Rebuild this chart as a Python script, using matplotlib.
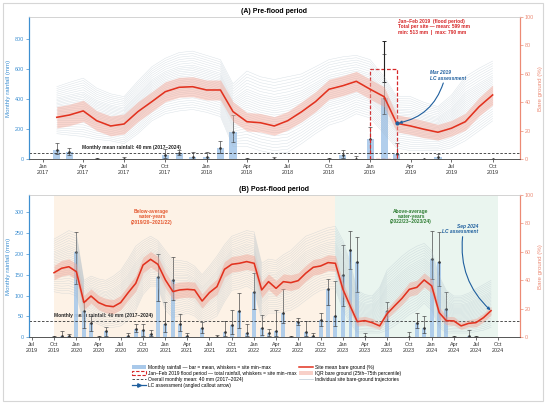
import matplotlib
matplotlib.use('Agg')
import matplotlib.pyplot as plt
import matplotlib.dates as mdates
import numpy as np
import pandas as pd
from matplotlib.patches import Rectangle, Patch
from matplotlib.lines import Line2D

plt.rcParams['font.family'] = ['Liberation Sans', 'DejaVu Sans']

# ---------------- (A) pre-flood period: Feb 2017 – Oct 2019 ----------------
months_a = pd.date_range('2017-02-01', '2019-10-01', freq='MS')
rain_mean_a = [62, 47, 0, 2, 0, 2, 0, 0, 29, 44, 16,
               13, 73, 184, 1, 0, 2, 0, 0, 0, 1, 29, 3,
               133, 410, 33, 0, 1, 17, 0, 0, 0, 1]
rain_min_a = [36, 29, 0, 0, 0, 0, 0, 0, 7, 29, 2,
              2, 40, 118, 0, 0, 0, 0, 0, 0, 0, 7, 0,
              40, 300, 5, 0, 0, 2, 0, 0, 0, 0]
rain_max_a = [111, 73, 0, 11, 0, 13, 0, 0, 67, 62, 47,
              49, 124, 296, 7, 0, 13, 0, 0, 0, 10, 62, 20,
              217, 700, 110, 0, 4, 35, 0, 0, 0, 4]
bare_mean_a = [29.5, 31.1, 34.0, 27.1, 23.4, 24.8, 33.5, 40.5, 47.5, 50.6, 51.0,
               48.7, 48.7, 33.5, 26.4, 25.7, 23.4, 27.1, 33.4, 40.5, 49.2, 51.7, 54.8,
               49.2, 44.0, 25.3, 23.4, 21.1, 19.0, 21.8, 26.4, 37.0, 45.2]
bare_iqr_half_a = [7.5, 7.5, 7.5, 7, 7, 7, 7, 7, 7, 7, 7,
                   7, 7, 7, 6.5, 6.5, 6.5, 6.5, 7, 7, 7, 7, 7,
                   7, 7, 6, 6, 6, 5.5, 5.5, 6, 6.5, 7]
site_upper_a = [51, 54, 57, 50, 46, 44, 55, 65, 71, 75, 76,
                73, 70, 53, 62, 58, 56, 58, 60, 65, 70, 72, 73,
                70, 58, 44, 44, 40, 37, 45, 58, 64, 69]
site_lower_a = [18, 17, 16, 14, 13, 11, 18, 27, 32, 34, 35,
                33, 30, 9, 9, 6, 4, 5, 11, 18, 24, 27, 32,
                29, 18, 8, 6, 6, 6, 8, 13, 20, 27]

flood_start = '2019-01-01'
flood_end = '2019-03-01'
flood_center = '2019-02-01'
flood_total_mean = 599
flood_total_min = 513
flood_total_max = 790

# ---------------- (B) post-flood period: Oct 2019 – Sep 2024 ----------------
months_b = pd.date_range('2019-10-01', '2024-09-01', freq='MS')
rain_mean_b = [1, 3, 2,
               205, 62, 34, 1, 16, 0, 0, 2, 21, 17, 9, 145,
               31, 138, 31, 2, 0, 22, 0, 1, 12, 30, 63, 10,
               110, 22, 10, 14, 58, 1, 36, 12, 4, 42, 115, 52,
               150, 211, 181, 1, 0, 0, 62, 0, 0, 1, 35, 22,
               187, 181, 68, 1, 0, 2, 1, 0, 0]
rain_min_b = [0, 0, 0,
              127, 22, 16, 0, 4, 0, 0, 0, 12, 4, 2, 88,
              12, 90, 16, 0, 0, 11, 0, 0, 2, 8, 22, 2,
              68, 6, 2, 2, 34, 0, 30, 3, 1, 26, 78, 26,
              75, 165, 108, 0, 0, 0, 38, 0, 0, 0, 22, 10,
              139, 123, 40, 0, 0, 0, 0, 0, 0]
rain_max_b = [4, 14, 7,
              254, 88, 52, 3, 25, 0, 0, 10, 33, 31, 18, 200,
              86, 192, 56, 11, 0, 37, 0, 5, 40, 66, 106, 32,
              155, 54, 19, 66, 116, 2, 47, 38, 11, 58, 139, 135,
              221, 256, 240, 11, 0, 0, 86, 0, 0, 12, 58, 50,
              256, 253, 108, 3, 0, 18, 4, 0, 0]
bare_mean_b = [45.4, 48.5, 49.6,
               46.1, 24.4, 29.0, 24.4, 22.2, 21.5, 24.4, 31.4, 37.9, 50.8, 54.8, 51.3,
               40.3, 32.1, 33.3, 33.7, 33.3, 25.5, 31.4, 35.6, 47.8, 51.3, 52.0, 53.2,
               52.0, 33.3, 39.1, 34.4, 39.1, 38.4, 39.8, 45.0, 49.2, 50.1, 52.5, 52.0,
               33.7, 21.5, 11.0, 11.7, 10.3, 8.0, 16.4, 22.0, 27.4, 33.7, 35.1, 40.3,
               36.1, 17.3, 11.7, 11.5, 8.0, 9.8, 10.3, 13.8, 18.7]
bare_iqr_half_b = [5, 5.5, 5.5,
                   5.5, 5, 5, 5, 5, 5, 5, 5, 5.5, 5.5, 5.5, 5.5,
                   5.5, 5.5, 5.5, 5.5, 5.5, 5, 5, 5.5, 5.5, 5.5, 5.5, 5.5,
                   5.5, 5.5, 5.5, 5.5, 5.5, 5.5, 5.5, 5.5, 5.5, 5.5, 5.5, 5.5,
                   5, 4, 3, 3, 3, 2.5, 3.5, 4, 4.5, 5, 5, 5,
                   5, 4, 3, 3, 2.5, 2.5, 3, 3, 3]
site_upper_b = [69, 72, 75,
                73, 40, 43, 41, 40, 43, 47, 55, 64, 68, 71, 68,
                61, 54, 54, 53, 50, 44, 50, 57, 65, 71, 73, 75,
                74, 52, 55, 54, 58, 61, 66, 71, 73, 75, 77, 78,
                68, 52, 33, 30, 29, 35, 47, 52, 57, 61, 64, 66,
                61, 43, 33, 29, 29, 31, 34, 37, 40]
site_lower_b = [32, 31, 31,
                29, 10, 12, 9, 7, 7, 8, 12, 19, 30, 36, 36,
                19, 14, 15, 17, 15, 10, 12, 15, 25, 33, 34, 36,
                33, 12, 17, 17, 18, 19, 22, 26, 30, 33, 34, 34,
                19, 10, 3, 3, 3, 3, 5, 8, 12, 16, 19, 24,
                19, 7, 3, 3, 3, 3, 4, 5, 7]

# relative position of each monitored site inside the site envelope
site_positions = [0.0, 0.04, 0.08, 0.12, 0.16, 0.2, 0.24, 0.28, 0.31, 0.34,
                  0.37, 0.4, 0.43, 0.46, 0.49, 0.52, 0.55, 0.58, 0.61, 0.64,
                  0.67, 0.7, 0.73, 0.76, 0.8, 0.84, 0.88, 0.92, 0.96, 1.0]

overall_mean_rain = 40

lc_a_date = '2019-03-01'
lc_b_date = '2024-09-01'

# ---------------- styling ----------------
C_BAR = '#a9c9ea'
C_LEFT = '#3d8fd1'
C_RIGHT = '#ec8a74'
C_RED = '#e2321f'
C_IQR = '#f2a393'
C_SITE = '#a3b5c2'
C_ARROW = '#1f5f9e'
C_FLOOD = '#d62728'
FS_TICK = 3.9
FS_LAB = 4.4
FS_ANN = 3.55

fig = plt.figure(figsize=(5.5, 4.05), dpi=100)
fig.patches.append(Rectangle((0.0055, 0.0099), 0.9824, 0.9827, transform=fig.transFigure,
                             fill=False, edgecolor='#d6d6d6', lw=0.8))

axA = fig.add_axes([0.0527, 0.6067, 0.8927, 0.3514])
axB = fig.add_axes([0.0527, 0.1672, 0.8927, 0.3513])


def style_axes(ax, ax2, xlim, ylim, yticks, title):
    ax.set_xlim(pd.Timestamp(xlim[0]), pd.Timestamp(xlim[1]))
    ax.set_ylim(*ylim)
    ax2.set_ylim(0, 100)
    ax.set_yticks(yticks)
    ax2.set_yticks([0, 20, 40, 60, 80, 100])
    ax.xaxis.set_major_locator(mdates.MonthLocator(bymonth=[1, 4, 7, 10]))
    ax.xaxis.set_major_formatter(mdates.DateFormatter('%b\n%Y'))
    ax.tick_params(axis='x', labelsize=FS_TICK, length=2, width=0.5, pad=1.5,
                   colors='#333333')
    ax.tick_params(axis='y', labelsize=FS_TICK, length=2, width=0.5, pad=1.5,
                   colors=C_LEFT)
    ax2.tick_params(axis='y', labelsize=FS_TICK, length=2, width=0.5, pad=1.5,
                    colors=C_RIGHT)
    ax.set_ylabel('Monthly rainfall (mm)', fontsize=FS_LAB, color=C_LEFT, labelpad=2.5)
    ax2.set_ylabel('Bare ground (%)', fontsize=FS_LAB, color=C_RIGHT, labelpad=2.5)
    for a in (ax, ax2):
        a.spines['top'].set_color('#d0d0d0')
        a.spines['top'].set_linewidth(0.5)
        a.spines['bottom'].set_color('#555555')
        a.spines['bottom'].set_linewidth(0.6)
        a.spines['left'].set_color(C_LEFT)
        a.spines['left'].set_linewidth(0.8)
        a.spines['right'].set_color(C_RIGHT)
        a.spines['right'].set_linewidth(0.8)
    ax.set_title(title, fontsize=5.0, fontweight='bold', pad=3.0)


def draw_panel(ax, ax2, months, rmean, rmin, rmax, bmean, bhalf, sup, slo):
    rmean = np.array(rmean, float)
    rmin = np.array(rmin, float)
    rmax = np.array(rmax, float)
    ax.bar(months, rmean, width=16, color=C_BAR, alpha=0.9, zorder=2, lw=0)
    has = rmax > 0
    ax.errorbar(months[has], rmean[has],
                yerr=[rmean[has] - rmin[has], rmax[has] - rmean[has]],
                fmt='o', ms=0.9, mfc='#333333', mec='#333333', ecolor='#3a3a3a',
                elinewidth=0.45, capsize=1.1, capthick=0.45, zorder=3)
    ax.axhline(overall_mean_rain, color='#333333', ls=(0, (3, 2)), lw=0.6, zorder=2.5)
    bmean = np.array(bmean, float)
    bhalf = np.array(bhalf, float)
    sup = np.array(sup, float)
    slo = np.array(slo, float)
    for p in site_positions:
        ax2.plot(months, slo + p * (sup - slo), color=C_SITE, lw=0.35, alpha=0.4,
                 zorder=1)
    ax2.fill_between(months, bmean - bhalf, bmean + bhalf, color=C_IQR, alpha=0.45,
                     lw=0, zorder=2)
    ax2.plot(months, bmean, color=C_RED, lw=1.15, zorder=3)


# ---------------- panel A ----------------
axA2 = axA.twinx()
draw_panel(axA, axA2, months_a, rain_mean_a, rain_min_a, rain_max_a,
           bare_mean_a, bare_iqr_half_a, site_upper_a, site_lower_a)
style_axes(axA, axA2, ('2016-12-01', '2019-12-01'), (0, 948),
           [0, 200, 400, 600, 800], '(A) Pre-flood period')

fs = pd.Timestamp(flood_start)
fe = pd.Timestamp(flood_end)
axA.add_patch(Rectangle((mdates.date2num(fs), 0),
                        mdates.date2num(fe) - mdates.date2num(fs), flood_total_mean,
                        fill=False, edgecolor=C_FLOOD, ls=(0, (3, 1.5)), lw=0.9, zorder=4))
axA.errorbar([pd.Timestamp(flood_center)], [flood_total_mean],
             yerr=[[flood_total_mean - flood_total_min], [flood_total_max - flood_total_mean]],
             fmt='none', ecolor='#222222', elinewidth=0.8, capsize=1.6, capthick=0.7, zorder=5)
axA.text(pd.Timestamp('2019-03-03'), 933,
         'Jan–Feb 2019  (flood period)\nTotal per site — mean: %d mm\nmin: %d mm  |  max: %d mm'
         % (flood_total_mean, flood_total_min, flood_total_max),
         fontsize=FS_ANN, color=C_FLOOD, fontweight='bold', va='top', ha='left',
         linespacing=1.05, zorder=6)
axA.annotate('Monthly mean rainfall: 40 mm (2017–2024)',
             xy=(pd.Timestamp('2017-03-30'), overall_mean_rain), xytext=(0, 2.2),
             textcoords='offset points', fontsize=FS_ANN, fontweight='bold',
             ha='left', va='bottom', color='#222222', zorder=1.5)

ia = list(months_a).index(pd.Timestamp(lc_a_date))
axA2.plot([months_a[ia]], [bare_mean_a[ia]], 'o', color=C_ARROW, ms=2, zorder=6)
axA2.annotate('', xy=(months_a[ia], bare_mean_a[ia]),
              xytext=(pd.Timestamp('2019-06-13'), 53.6),
              arrowprops=dict(arrowstyle='-|>', color=C_ARROW, lw=0.8,
                              mutation_scale=4, shrinkA=0, shrinkB=1.5,
                              connectionstyle='arc3,rad=-0.3'), zorder=6)
axA2.text(pd.Timestamp('2019-05-14'), 62.5, 'Mar 2019\nLC assessment',
          fontsize=FS_ANN, color=C_ARROW, fontweight='bold', fontstyle='italic',
          ha='left', va='top', linespacing=1.05, zorder=6)

# ---------------- panel B ----------------
axB2 = axB.twinx()
axB.axvspan(pd.Timestamp('2019-10-01'), pd.Timestamp('2022-12-01'),
            color='#fdf2e6', lw=0, zorder=0)
axB.axvspan(pd.Timestamp('2022-12-01'), pd.Timestamp('2024-10-01'),
            color='#eaf5ef', lw=0, zorder=0)
draw_panel(axB, axB2, months_b, rain_mean_b, rain_min_b, rain_max_b,
           bare_mean_b, bare_iqr_half_b, site_upper_b, site_lower_b)
style_axes(axB, axB2, ('2019-06-20', '2024-12-29'), (0, 342),
           [0, 50, 100, 150, 200, 250, 300], '(B) Post-flood period')

axB.annotate('Monthly mean rainfall: 40 mm (2017–2024)',
             xy=(pd.Timestamp('2019-10-01'), overall_mean_rain), xytext=(0, 2.2),
             textcoords='offset points', fontsize=FS_ANN, fontweight='bold',
             ha='left', va='bottom', color='#222222', zorder=1.5)
axB2.text(pd.Timestamp('2020-11-05'), 90.0, 'Below-average\nwater-years\n(2019/20–2021/22)',
          fontsize=FS_ANN, color='#e4572e', fontweight='bold', ha='center', va='top',
          linespacing=1.05, zorder=6)
axB2.text(pd.Timestamp('2023-10-07'), 90.5, 'Above-average\nwater-years\n(2022/23–2023/24)',
          fontsize=FS_ANN, color='#2e7d32', fontweight='bold', ha='center', va='top',
          linespacing=1.05, zorder=6)

ib = list(months_b).index(pd.Timestamp(lc_b_date))
axB2.annotate('', xy=(months_b[ib], bare_mean_b[ib]),
              xytext=(pd.Timestamp('2024-05-07'), 70.7),
              arrowprops=dict(arrowstyle='-|>', color=C_ARROW, lw=0.8,
                              mutation_scale=4, shrinkA=0, shrinkB=0.5,
                              connectionstyle='arc3,rad=0.25'), zorder=6)
axB2.text(pd.Timestamp('2024-07-11'), 79.5, 'Sep 2024\nLC assessment',
          fontsize=FS_ANN, color=C_ARROW, fontweight='bold', fontstyle='italic',
          ha='right', va='top', linespacing=1.05, zorder=6)

# ---------------- legend ----------------
handles = [
    Patch(facecolor=C_BAR, edgecolor='none'),
    Patch(facecolor='none', edgecolor=C_FLOOD, ls=(0, (3, 1.5)), lw=0.8),
    Line2D([0], [0], color='#333333', ls=(0, (3, 2)), lw=0.6),
    Line2D([0], [0], color=C_ARROW, lw=0.9, marker='>', ms=2.5),
    Line2D([0], [0], color=C_RED, lw=1.1),
    Patch(facecolor=C_IQR, alpha=0.5, edgecolor='none'),
    Line2D([0], [0], color=C_SITE, lw=0.5, alpha=0.7),
]
labels = [
    'Monthly rainfall — bar = mean, whiskers = site min–max',
    'Jan–Feb 2019 flood period — total rainfall, whiskers = site min–max',
    'Overall monthly mean: 40 mm (2017–2024)',
    'LC assessment (angled callout arrow)',
    'Site mean bare ground (%)',
    'IQR bare ground (25th–75th percentile)',
    'Individual site bare-ground trajectories',
]
fig.legend(handles, labels, loc='upper left', bbox_to_anchor=(132 / 550, 1 - 365 / 405),
           ncol=2, frameon=False, fontsize=FS_ANN, handlelength=2.8, handleheight=0.9,
           labelspacing=0.2, columnspacing=0.6, handletextpad=0.4, borderaxespad=0,
           borderpad=0)

fig.savefig('out.png', dpi=100)
